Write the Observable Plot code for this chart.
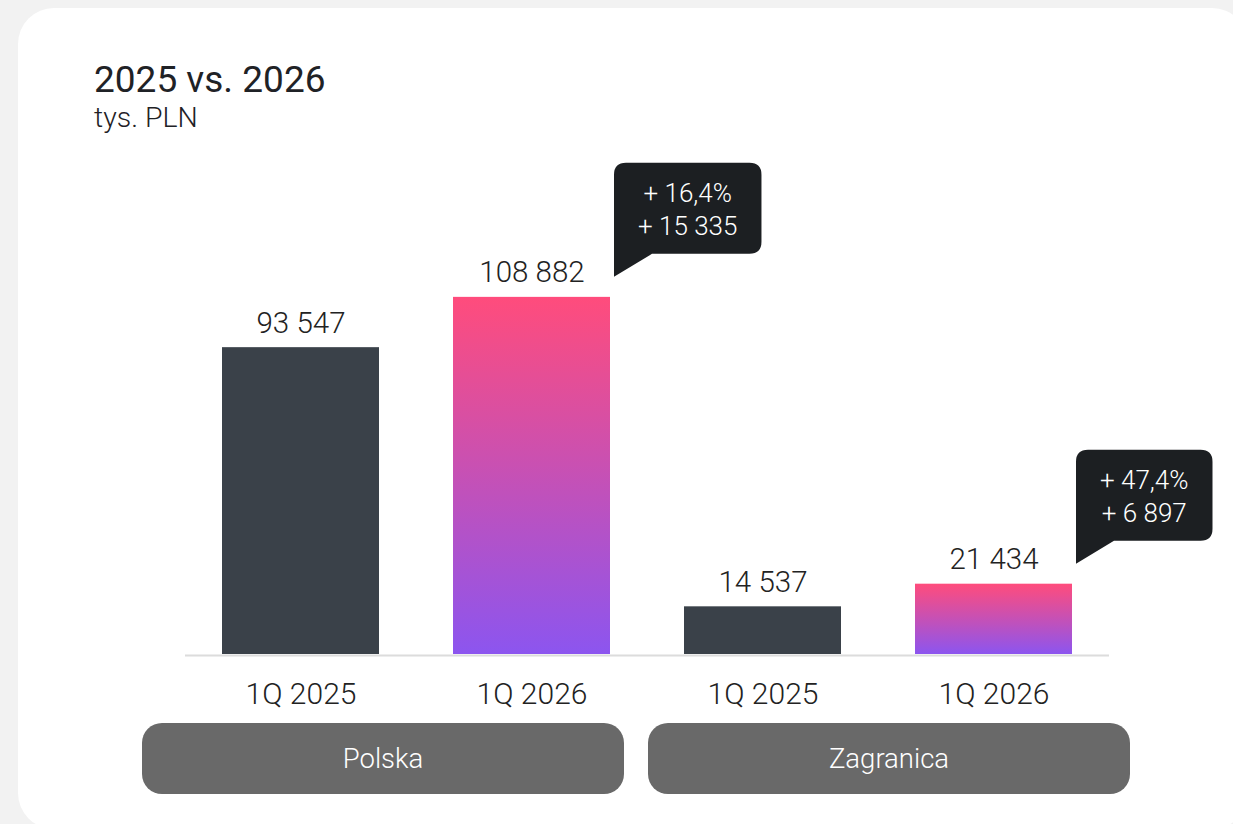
<!DOCTYPE html>
<html>
<head>
<meta charset="utf-8">
<script src="https://cdn.jsdelivr.net/npm/d3@7"></script>
<script src="https://cdn.jsdelivr.net/npm/@observablehq/plot@0.6"></script>
<style>
  html, body { margin: 0; padding: 0; background: #f2f2f2; width: 1233px; height: 824px; overflow: hidden; }
  body { position: relative; font-family: "Roboto", "Liberation Sans", sans-serif; font-weight: 300; }
  #card { position: absolute; left: 18px; top: 8px; width: 1230px; height: 821px; background: #fff; border-radius: 36px; }
  #title { position: absolute; left: 94px; top: 61px; font-size: 37px; line-height: 1; color: #1f2226; font-weight: 400; white-space: nowrap; }
  #subtitle { position: absolute; left: 94px; top: 104px; font-size: 28.5px; line-height: 1; color: #1f2226; white-space: nowrap; }
  #chart { position: absolute; left: 0; top: 140px; }
  #chart svg { overflow: visible; }
  #chart svg text { font-weight: 300; }
  #groups { position: absolute; left: 142px; top: 723px; display: flex; gap: 24px; }
  .pill { width: 482px; height: 71px; border-radius: 20px; background: #696969; color: #fff; font-size: 27.5px; display: flex; align-items: center; justify-content: center; }
</style>
</head>
<body>
<div id="card"></div>
<div id="title">2025 vs. 2026</div>
<div id="subtitle">tys. PLN</div>
<div id="chart"></div>
<div id="groups"></div>
<script>
// ---- data ----
const groups = ["Polska", "Zagranica"];
const periods = ["1Q 2025", "1Q 2026"];
const valuesPolska = [93547, 108882];
const valuesZagranica = [14537, 21434];

const seriesByGroup = { Polska: valuesPolska, Zagranica: valuesZagranica };
const data = groups.flatMap(g => periods.map((p, j) => ({ group: g, period: p, key: g + "|" + p, value: seriesByGroup[g][j] })));
const keys = data.map(d => d.key);

const locale = d3.formatLocale({ decimal: ",", thousands: " ", grouping: [3], currency: ["", ""] });
const fmtInt = locale.format(",d");
const fmtPct = locale.format(".1f");

const changes = groups.map(g => {
  const [a, b] = seriesByGroup[g];
  return { key: g + "|" + periods[1], value: b, pct: "+ " + fmtPct((b / a - 1) * 100) + "%", abs: "+ " + fmtInt(b - a) };
});

const FONT = '"Roboto", "Liberation Sans", sans-serif';
const PAD_IN = 0.32, PAD_OUT = 0.16;
const CALLOUT_FS = 26;

// gradient definition
const gradientDefs = () => {
  const defs = d3.create("svg:defs");
  const lg = defs.append("linearGradient").attr("id", "barGrad").attr("x1", 0).attr("y1", 0).attr("x2", 0).attr("y2", 1);
  lg.append("stop").attr("offset", "0%").attr("stop-color", "#ff4c7c");
  lg.append("stop").attr("offset", "100%").attr("stop-color", "#8c55ef");
  return defs.node();
};

// speech-bubble callouts
const ctx = document.createElement("canvas").getContext("2d");
const callouts = (index, scales, values, dims) => {
  const g = d3.create("svg:g");
  ctx.font = `300 ${CALLOUT_FS}px ${FONT}`;
  let bw = scales.x.bandwidth ?? (scales.scales && scales.scales.x && scales.scales.x.bandwidth);
  if (typeof bw === "function") bw = bw();
  if (!(bw > 0)) {
    const step = (dims.width - dims.marginLeft - dims.marginRight) / (keys.length - PAD_IN + 2 * PAD_OUT);
    bw = step * (1 - PAD_IN);
  }
  for (const c of changes) {
    const tx = scales.x(c.key) + bw + 4;
    const ty = scales.y(c.value) - 20;
    const w = Math.max(ctx.measureText(c.pct).width, ctx.measureText(c.abs).width) + 48;
    const h = 91, tail = 23, r = 12;
    const bottom = ty - tail, top = bottom - h, left = tx, right = tx + w;
    const path = `M${left},${ty} L${left},${top + r} Q${left},${top} ${left + r},${top} L${right - r},${top} Q${right},${top} ${right},${top + r} L${right},${bottom - r} Q${right},${bottom} ${right - r},${bottom} L${left + 38},${bottom} Z`;
    g.append("path").attr("d", path).attr("fill", "#1c1f22");
    const cx = (left + right) / 2, cy = (top + bottom) / 2;
    g.append("text").attr("x", cx).attr("y", cy - 6).attr("text-anchor", "middle").attr("fill", "#fff")
      .attr("font-size", CALLOUT_FS).attr("font-family", FONT).text(c.pct);
    g.append("text").attr("x", cx).attr("y", cy + 27).attr("text-anchor", "middle").attr("fill", "#fff")
      .attr("font-size", CALLOUT_FS).attr("font-family", FONT).text(c.abs);
  }
  return g.node();
};

const chart = Plot.plot({
  width: 1233,
  height: 580,
  marginLeft: 185,
  marginRight: 124,
  marginTop: 104,
  marginBottom: 66,
  style: { background: "transparent", fontFamily: FONT, overflow: "visible" },
  x: { domain: keys, paddingInner: PAD_IN, paddingOuter: PAD_OUT, label: null },
  y: { domain: [0, 125000], axis: null },
  marks: [
    gradientDefs,
    Plot.ruleY([0], { stroke: "#dcdcdc", strokeWidth: 2, dy: 1 }),
    Plot.barY(data.filter(d => d.period === periods[0]), { x: "key", y: "value", fill: "#3a4149" }),
    Plot.barY(data.filter(d => d.period === periods[1]), { x: "key", y: "value", fill: "url(#barGrad)" }),
    Plot.text(data, { x: "key", y: "value", text: d => fmtInt(d.value), lineAnchor: "bottom", dy: -15, fontSize: 29.5, fill: "#222" }),
    Plot.axisX({ tickSize: 0, tickPadding: 28, fontSize: 30, color: "#222", label: null, tickFormat: k => k.split("|")[1] }),
    callouts
  ]
});
document.getElementById("chart").appendChild(chart);

const groupsEl = d3.select("#groups");
groupsEl.selectAll("div").data(groups).join("div").attr("class", "pill").text(d => d);
</script>
</body>
</html>
